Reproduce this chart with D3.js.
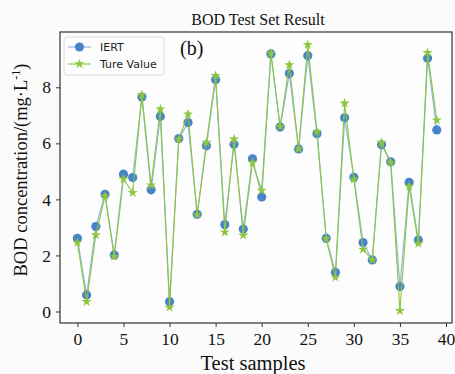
<!DOCTYPE html>
<html><head><meta charset="utf-8">
<script src="https://cdn.jsdelivr.net/npm/d3@7"></script>
<style>body{margin:0;background:#fff}</style>
</head><body>
<script>
const samples = d3.range(40);
const iert = [2.61,0.59,3.03,4.18,2.02,4.9,4.78,7.65,4.34,6.96,0.35,6.17,6.74,3.47,5.91,8.27,3.1,5.97,2.94,5.45,4.09,9.19,6.58,8.49,5.8,9.13,6.34,2.61,1.4,6.91,4.79,2.46,1.84,5.95,5.34,0.89,4.61,2.55,9.04,6.48];
const trueValue = [2.46,0.35,2.73,4.12,1.96,4.73,4.24,7.73,4.51,7.22,0.15,6.15,7.04,3.45,6.03,8.42,2.83,6.15,2.72,5.31,4.32,9.22,6.6,8.8,5.8,9.52,6.42,2.6,1.22,7.43,4.72,2.22,1.84,6.03,5.31,0.03,4.46,2.43,9.24,6.83];
const xTicks = [0,5,10,15,20,25,30,35,40];
const yTicks = [0,2,4,6,8];
const seriesNames = ["IERT","Ture Value"];

const W=455,H=374;
const L=60,R=452,T=32,B=323;
const svg=d3.select("body").append("svg").attr("width",W).attr("height",H);
svg.append("rect").attr("width",W).attr("height",H).attr("fill","#fbfbfb");
svg.append("rect").attr("x",L).attr("y",T).attr("width",R-L).attr("height",B-T).attr("fill","#fdfdfd");

const x=d3.scaleLinear().domain([0,40]).range([77.4,446]);
const y=d3.scaleLinear().domain([0,8]).range([311.5,87.3]);

const serif="'Liberation Serif','Times New Roman',serif";
const blue="#4a84c8", blueLine="#8fb6e0", green="#8cc63e";

// axes
const xa=svg.append("g").attr("transform",`translate(0,${B})`).call(d3.axisBottom(x).tickValues(xTicks).tickSize(4).tickPadding(6));
const ya=svg.append("g").attr("transform",`translate(${L},0)`).call(d3.axisLeft(y).tickValues(yTicks).tickSize(4).tickPadding(5));
[xa,ya].forEach(a=>{a.select(".domain").remove();a.selectAll("line").attr("stroke","#333");a.selectAll("text").attr("font-family",serif).attr("font-size",17.5).attr("fill","#111");});
svg.append("rect").attr("x",L).attr("y",T).attr("width",R-L).attr("height",B-T).attr("fill","none").attr("stroke","#333").attr("stroke-width",1.2);

// lines
const lineGen=d3.line().x((d,i)=>x(samples[i])).y(d=>y(d));
svg.append("path").datum(iert).attr("d",lineGen).attr("fill","none").attr("stroke",blueLine).attr("stroke-width",1.2);
svg.append("g").selectAll("circle").data(iert).join("circle").attr("cx",(d,i)=>x(samples[i])).attr("cy",d=>y(d)).attr("r",4.6).attr("fill",blue);
svg.append("path").datum(trueValue).attr("d",lineGen).attr("fill","none").attr("stroke",green).attr("stroke-width",1.1);
const star=d3.symbol().type(d3.symbolStar).size(32);
svg.append("g").selectAll("path").data(trueValue).join("path").attr("d",star).attr("transform",(d,i)=>`translate(${x(samples[i])},${y(d)})`).attr("fill",green);

// legend
const lg=svg.append("g");
lg.append("rect").attr("x",64).attr("y",37).attr("width",100).attr("height",38).attr("rx",3).attr("fill","#fdfdfd").attr("stroke","#ddd");
lg.append("line").attr("x1",68).attr("x2",91).attr("y1",47).attr("y2",47).attr("stroke",blueLine).attr("stroke-width",1.2);
lg.append("circle").attr("cx",79.5).attr("cy",47).attr("r",4.6).attr("fill",blue);
lg.append("line").attr("x1",68).attr("x2",91).attr("y1",64).attr("y2",64).attr("stroke",green).attr("stroke-width",1.1);
lg.append("path").attr("d",star).attr("transform","translate(79.5,64)").attr("fill",green);
lg.selectAll("text").data(seriesNames).join("text").attr("x",100).attr("y",(d,i)=>51+i*17).text(d=>d)
  .attr("font-family","'DejaVu Sans',sans-serif").attr("font-size",11).attr("fill","#222");

// texts
svg.append("text").attr("x",258).attr("y",25).attr("text-anchor","middle").attr("font-family",serif).attr("font-size",16).attr("fill","#111").text("BOD Test Set Result");
svg.append("text").attr("x",180).attr("y",55).attr("font-family",serif).attr("font-size",20).attr("fill","#111").text("(b)");
svg.append("text").attr("x",253).attr("y",370).attr("text-anchor","middle").attr("font-family",serif).attr("font-size",20.5).attr("fill","#111").text("Test samples");
const yl=svg.append("text").attr("transform","translate(27,170) rotate(-90)").attr("text-anchor","middle").attr("font-family",serif).attr("font-size",18.5).attr("fill","#111");
yl.append("tspan").text("BOD concentration/(mg·L");
yl.append("tspan").attr("dy",-7).attr("font-size",12).text("-1");
yl.append("tspan").attr("dy",7).text(")");
</script>
</body></html>
